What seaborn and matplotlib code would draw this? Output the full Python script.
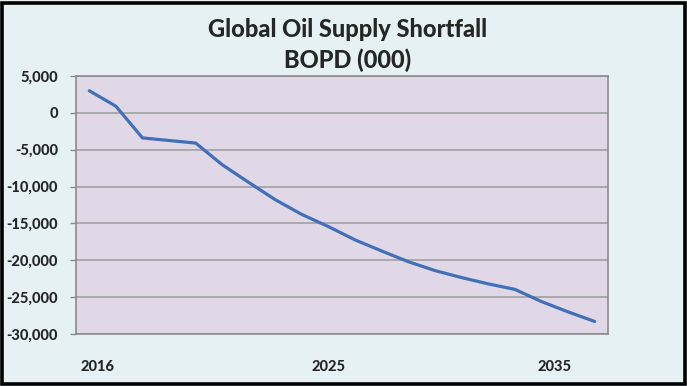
import matplotlib.pyplot as plt
import matplotlib.patches as mpatches
import seaborn as sns
import pandas as pd

years = list(range(2016, 2036))
shortfall = [3000, 900, -3400, -3750, -4100, -7050, -9450, -11800, -13800, -15450,
             -17250, -18750, -20200, -21400, -22350, -23200, -23950, -25600, -27000, -28300]
tick_years = [2016.3, 2025, 2033.5]
tick_labels = ["2016", "2025", "2035"]
y_ticks = list(range(5000, -30001, -5000))

df = pd.DataFrame({"year": years, "shortfall": shortfall})

sns.set_theme(style="white")
plt.rcParams["font.family"] = ["Lato", "DejaVu Sans"]

fig = plt.figure(figsize=(6.87, 3.86), dpi=100)
fig.patch.set_facecolor("#E5F1F3")
ax = fig.add_axes([76 / 687, 52 / 386, 532 / 687, 258 / 386])
ax.set_facecolor("#E0D8E7")

sns.lineplot(data=df, x="year", y="shortfall", ax=ax, color="#4170B9", linewidth=2.3)

ax.set_xlim(2015.5, 2035.5)
ax.set_ylim(-30000, 5000)
ax.set_yticks(y_ticks)
ax.set_yticklabels([f"{v:,}" for v in y_ticks], fontsize=10.5, fontweight="black")
ax.set_xticks(tick_years)
ax.set_xticklabels(tick_labels, fontsize=10.5, fontweight="black")
ax.tick_params(axis="x", length=0, pad=19)
ax.tick_params(axis="y", length=4, width=1, color="#8C8C8C", pad=9, left=True)
ax.grid(axis="y", color="#A0A0A0", linewidth=1.2)
ax.set_axisbelow(True)
for s in ax.spines.values():
    s.set_color("#8C8C8C")
    s.set_linewidth(1.2)
ax.set_xlabel("")
ax.set_ylabel("")
ax.set_title("Global Oil Supply Shortfall\nBOPD (000)", fontsize=17, fontweight="black",
             pad=6, linespacing=1.35, x=0.51)

fig.patches.append(mpatches.Rectangle((1.5 / 687, 2.5 / 386), 683 / 687, 381 / 386,
                                      transform=fig.transFigure, fill=False,
                                      edgecolor="black", linewidth=2.6))

fig.savefig("out.png", dpi=100)
